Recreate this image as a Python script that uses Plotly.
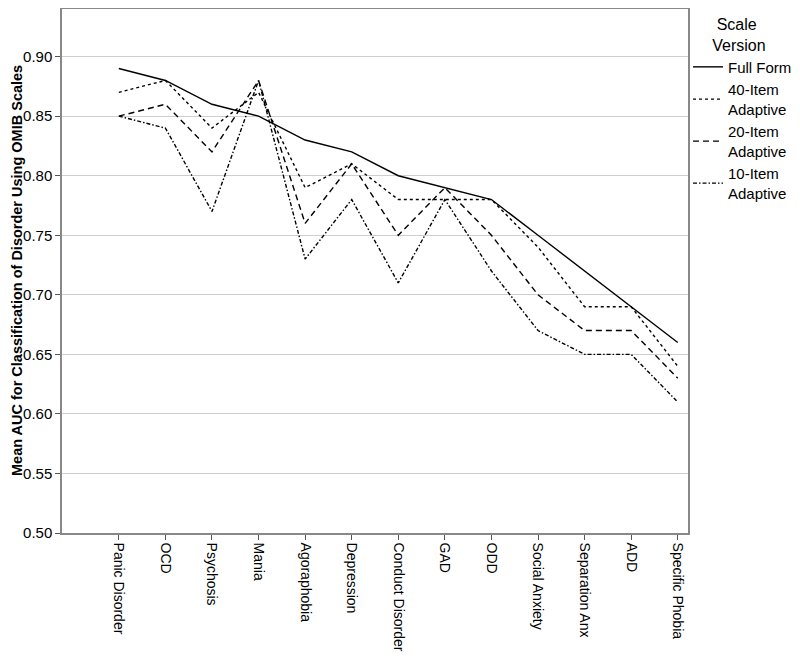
import plotly.graph_objects as go

categories = ["Panic Disorder", "OCD", "Psychosis", "Mania", "Agoraphobia", "Depression",
              "Conduct Disorder", "GAD", "ODD", "Social Anxiety", "Separation Anx", "ADD",
              "Specific Phobia"]
full_form = [0.89, 0.88, 0.86, 0.85, 0.83, 0.82, 0.80, 0.79, 0.78, 0.75, 0.72, 0.69, 0.66]
item40 = [0.87, 0.88, 0.84, 0.87, 0.79, 0.81, 0.78, 0.78, 0.78, 0.74, 0.69, 0.69, 0.64]
item20 = [0.85, 0.86, 0.82, 0.88, 0.76, 0.81, 0.75, 0.79, 0.75, 0.70, 0.67, 0.67, 0.63]
item10 = [0.85, 0.84, 0.77, 0.88, 0.73, 0.78, 0.71, 0.78, 0.72, 0.67, 0.65, 0.65, 0.61]
y_ticks = [0.50, 0.55, 0.60, 0.65, 0.70, 0.75, 0.80, 0.85, 0.90]
y_title = "Mean AUC for Classification of Disorder Using OMIB Scales"

series = [
    ("Full Form", full_form, "solid", 1.4),
    ("40-Item<br>Adaptive", item40, "dot", 1.4),
    ("20-Item<br>Adaptive", item20, "6px,4px", 1.4),
    ("10-Item<br>Adaptive", item10, "4px,2px,1.5px,2px", 1.4),
]

fig = go.Figure()
for name, vals, dash, w in series:
    fig.add_trace(go.Scatter(
        x=list(range(len(categories))), y=vals, mode="lines", name=name,
        line=dict(color="black", width=w, dash=dash),
    ))

# page body has an 8px margin, so the figure is sized 792x652
fig.update_layout(
    width=792, height=652,
    margin=dict(l=54, r=112, t=1, b=127, autoexpand=False),
    paper_bgcolor="white", plot_bgcolor="white",
    font=dict(family="Liberation Sans, Arial, sans-serif", color="black"),
    showlegend=True,
    legend=dict(
        x=1.0, xanchor="left", y=1.0, yanchor="top",
        title=dict(text="      Scale<br>     Version", font=dict(size=16), side="top"),
        font=dict(size=15),
        itemwidth=30,
        tracegroupgap=4,
        bgcolor="rgba(0,0,0,0)",
    ),
    annotations=[dict(
        text=f"<b>{y_title}</b>", textangle=-90,
        xref="paper", yref="paper", x=0, y=0.5, xshift=-45,
        xanchor="center", yanchor="middle", showarrow=False,
        font=dict(size=14.5, color="black"),
    )],
)
fig.update_xaxes(
    range=[-1.22, 12.22], automargin=False,
    tickmode="array", tickvals=list(range(len(categories))), ticktext=categories,
    tickangle=90, tickfont=dict(size=14),
    ticks="outside", ticklen=5, tickcolor="#555",
    showgrid=False, zeroline=False,
    showline=True, linecolor="#888", linewidth=1.5, mirror=True,
)
fig.update_yaxes(
    range=[0.50, 0.94], automargin=False,
    tickmode="array", tickvals=y_ticks, ticktext=[f"{v:.2f}" for v in y_ticks],
    tickfont=dict(size=15),
    ticks="outside", ticklen=5, tickcolor="#555",
    showgrid=True, gridcolor="#cfcfcf", gridwidth=1,
    zeroline=False,
    showline=True, linecolor="#888", linewidth=1.5, mirror=True,
)

fig.write_html("out.html")
